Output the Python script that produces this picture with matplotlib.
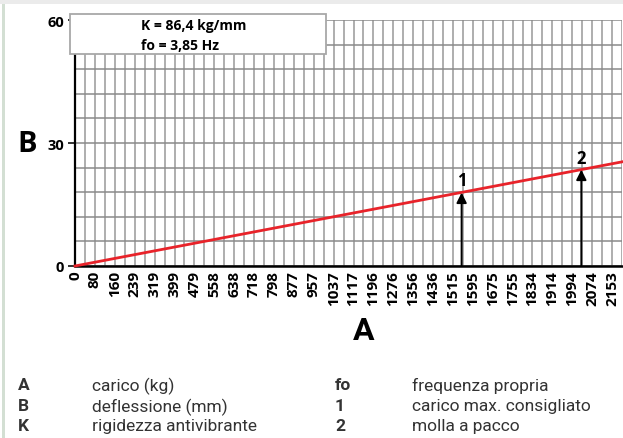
import matplotlib
matplotlib.use("Agg")
import matplotlib.pyplot as plt
from matplotlib import font_manager
from matplotlib.patches import Rectangle

# ---- data ----
x_tick_values = [0, 80, 160, 239, 319, 399, 479, 558, 638, 718, 798, 877, 957,
                 1037, 1117, 1196, 1276, 1356, 1436, 1515, 1595, 1675, 1755,
                 1834, 1914, 1994, 2074, 2153]
y_tick_values = [0, 30, 60]
y_minor_values = [6, 12, 18, 24, 36, 42, 48, 54]
line_x = [0, 2193]
line_y = [0, 25.4]
arrow_x = [1550, 2030]
arrow_top = [17.9, 23.5]
arrow_labels = ["1", "2"]
label_y = [21.0, 26.3]
info_lines = ["K = 86,4 kg/mm", "fo = 3,85 Hz"]
legend_left = [("A", "carico (kg)"), ("B", "deflessione (mm)"), ("K", "rigidezza antivibrante")]
legend_right = [("fo", "frequenza propria"), ("1", "carico max. consigliato"), ("2", "molla a pacco")]

names = {f.name for f in font_manager.fontManager.ttflist}
main_font = "Open Sans" if "Open Sans" in names else "DejaVu Sans"
leg_font = "Roboto" if "Roboto" in names else "DejaVu Sans"

W, H = 623, 439
fig = plt.figure(figsize=(W / 100, H / 100), dpi=100)
fig.patch.set_facecolor("white")

def fx(px):
    return px / W

def fy(py):
    return 1 - py / H

# decorative borders
fig.patches.append(Rectangle((0, fy(5)), 1, 5 / H, transform=fig.transFigure,
                             facecolor="#ebebeb", edgecolor="none", zorder=0))
fig.patches.append(Rectangle((fx(2), 0), 3 / W, fy(5), transform=fig.transFigure,
                             facecolor="#d3dfd3", edgecolor="none", zorder=0))

ax_l, ax_r, ax_t, ax_b = 75, 622, 21, 267
ax = fig.add_axes([fx(ax_l), fy(ax_b), (ax_r - ax_l) / W, (ax_b - ax_t) / H])
ax.set_xlim(0, 2193)
ax.set_ylim(0, 60)

minor_x = [(a + b) / 2 for a, b in zip(x_tick_values[:-1], x_tick_values[1:])]
minor_x.append(x_tick_values[-1] + (x_tick_values[-1] - x_tick_values[-2]) / 2)
ax.set_xticks(x_tick_values)
ax.set_xticks(minor_x, minor=True)
ax.set_yticks(y_tick_values)
ax.set_yticks(y_minor_values, minor=True)

ax.grid(True, which="both", axis="x", color="#999999", linewidth=1.1)
ax.grid(True, which="both", axis="y", color="#8a8a8a", linewidth=1.1)
ax.set_axisbelow(True)

for s in ["top", "right"]:
    ax.spines[s].set_visible(False)
ax.spines["left"].set_linewidth(1.6)
ax.spines["bottom"].set_linewidth(1.8)
ax.spines["left"].set_color("black")
ax.spines["bottom"].set_color("black")

ax.set_xticklabels([str(v) for v in x_tick_values], rotation=90,
                   fontfamily=main_font, fontweight="bold", fontsize=11)
ax.set_yticklabels([str(v) for v in y_tick_values],
                   fontfamily=main_font, fontweight="bold", fontsize=10.5)
ax.tick_params(axis="x", which="both", length=0, pad=3)
ax.tick_params(axis="y", which="major", length=5, width=1.3, color="#222222", pad=3)
ax.tick_params(axis="y", which="minor", length=0)

ax.plot(line_x, line_y, color="#e8232a", linewidth=2.0, zorder=3, clip_on=False)

for xv, top, lab, ly in zip(arrow_x, arrow_top, arrow_labels, label_y):
    ax.annotate("", xy=(xv, top), xytext=(xv, 0),
                arrowprops=dict(arrowstyle="-|>,head_length=0.6,head_width=0.3",
                                color="black", linewidth=1.4,
                                shrinkA=0, shrinkB=0), zorder=4)
    ax.text(xv, ly, lab, ha="center", va="center", fontfamily=main_font,
            fontweight="bold", fontsize=12, zorder=5)

# info box
fig.patches.append(Rectangle((fx(70), fy(55)), (326 - 70) / W, (55 - 14.5) / H,
                             transform=fig.transFigure, facecolor="white",
                             edgecolor="#a8a8a8", linewidth=1.3, zorder=10))
fig.text(fx(141), fy(26), info_lines[0], ha="left", va="center",
         fontfamily=main_font, fontweight="bold", fontsize=10, zorder=11)
fig.text(fx(141), fy(46), info_lines[1], ha="left", va="center",
         fontfamily=main_font, fontweight="bold", fontsize=10, zorder=11)

# axis letters
fig.text(fx(27), fy(145), "B", ha="center", va="center", fontfamily=main_font,
         fontweight="bold", fontsize=21)
fig.text(fx(364), fy(331), "A", ha="center", va="center", fontfamily=leg_font,
         fontweight="bold", fontsize=23)

# legend
rows_y = [386, 407, 427]
lc = "#333333"
for (k, d), yy in zip(legend_left, rows_y):
    fig.text(fx(18), fy(yy), k, ha="left", va="center", fontfamily=leg_font,
             fontweight="bold", fontsize=12.5, color=lc)
    fig.text(fx(92), fy(yy), d, ha="left", va="center", fontfamily=leg_font,
             fontsize=12.5, color=lc)
for (k, d), yy in zip(legend_right, rows_y):
    fig.text(fx(335), fy(yy), k, ha="left", va="center", fontfamily=leg_font,
             fontweight="bold", fontsize=12.5, color=lc)
    fig.text(fx(412), fy(yy), d, ha="left", va="center", fontfamily=leg_font,
             fontsize=12.5, color=lc)

fig.savefig("out.png", dpi=100)
